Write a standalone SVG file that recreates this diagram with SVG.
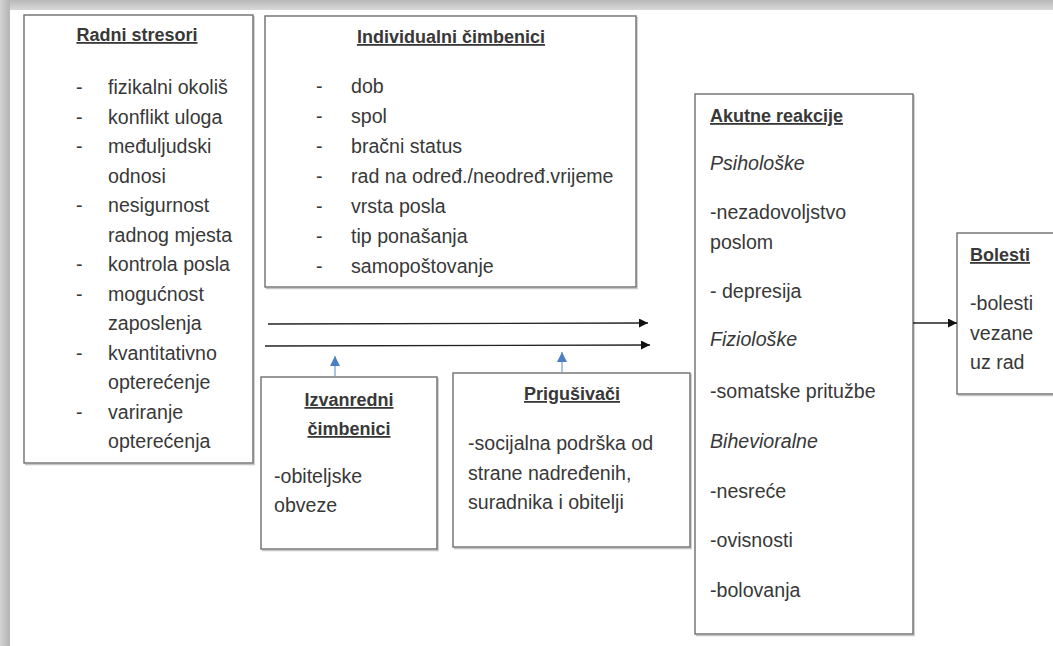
<svg xmlns="http://www.w3.org/2000/svg" width="1053" height="646" viewBox="0 0 1053 646">
<defs>
<linearGradient id="gTop" x1="0" y1="0" x2="0" y2="1"><stop offset="0" stop-color="#b8b8b8"/><stop offset="1" stop-color="#d8d8d8"/></linearGradient>
<linearGradient id="gLeft" x1="0" y1="0" x2="1" y2="0"><stop offset="0" stop-color="#d4d4d4"/><stop offset="1" stop-color="#b4b4b4"/></linearGradient>
<marker id="ah" viewBox="0 0 10 10" refX="10" refY="5" markerWidth="10" markerHeight="9" markerUnits="userSpaceOnUse" orient="auto"><path d="M0,0 L10,5 L0,10 z" fill="#111"/></marker>
<marker id="ahb" viewBox="0 0 10 10" refX="10" refY="5" markerWidth="10" markerHeight="10" markerUnits="userSpaceOnUse" orient="auto"><path d="M0,0 L10,5 L0,10 z" fill="#4a7fc4"/></marker>
</defs>
<style>
.box{fill:#fff;stroke:#6e6e6e;stroke-width:1.4}
.sh{fill:none;stroke:#c4c4c4;stroke-width:1.5}
text{font-family:"Liberation Sans",Arial,sans-serif;font-size:19.6px;fill:#383838}
.h{font-weight:bold;font-size:18px;text-decoration:underline}
.i{font-style:italic}
.c{text-anchor:middle}
.ln{stroke:#222;stroke-width:1.3;fill:none;marker-end:url(#ah)}
.bl{stroke:#8fb0dc;stroke-width:1.5;fill:none;marker-end:url(#ahb)}
</style>
<rect x="0" y="0" width="1053" height="646" fill="#fff"/>
<rect x="0" y="0" width="1053" height="10" fill="url(#gTop)"/>
<rect x="0" y="0" width="10" height="646" fill="url(#gLeft)"/>

<g id="radni-stresori">
<path class="sh" d="M254,16 V464.5 H25"/>
<rect class="box" x="24" y="15" width="229" height="448"/>
<text class="h c" x="137" y="41">Radni stresori</text>
<text x="76" y="94">-</text><text x="108" y="94">fizikalni okoliš</text>
<text x="76" y="123.5">-</text><text x="108" y="123.5">konflikt uloga</text>
<text x="76" y="153">-</text><text x="108" y="153">međuljudski</text>
<text x="108" y="182.5">odnosi</text>
<text x="76" y="212">-</text><text x="108" y="212">nesigurnost</text>
<text x="108" y="241.5">radnog mjesta</text>
<text x="76" y="271">-</text><text x="108" y="271">kontrola posla</text>
<text x="76" y="300.5">-</text><text x="108" y="300.5">mogućnost</text>
<text x="108" y="330">zaposlenja</text>
<text x="76" y="359.5">-</text><text x="108" y="359.5">kvantitativno</text>
<text x="108" y="389">opterećenje</text>
<text x="76" y="418.5">-</text><text x="108" y="418.5">variranje</text>
<text x="108" y="448">opterećenja</text>
</g>

<g id="individualni-cimbenici">
<path class="sh" d="M637,17 V288.5 H266"/>
<rect class="box" x="265" y="16" width="371" height="271"/>
<text class="h c" x="451" y="43">Individualni čimbenici</text>
<text x="316" y="93">-</text><text x="351" y="93">dob</text>
<text x="316" y="123">-</text><text x="351" y="123">spol</text>
<text x="316" y="153">-</text><text x="351" y="153">bračni status</text>
<text x="316" y="183">-</text><text x="351" y="183">rad na određ./neodređ.vrijeme</text>
<text x="316" y="213">-</text><text x="351" y="213">vrsta posla</text>
<text x="316" y="243">-</text><text x="351" y="243">tip ponašanja</text>
<text x="316" y="273">-</text><text x="351" y="273">samopoštovanje</text>
</g>

<g id="izvanredni-cimbenici">
<path class="sh" d="M438,378 V550.5 H262"/>
<rect class="box" x="261" y="377" width="176" height="172"/>
<text class="h c" x="349" y="406">Izvanredni</text>
<text class="h c" x="349" y="435">čimbenici</text>
<text x="274" y="483">-obiteljske</text>
<text x="274" y="512">obveze</text>
</g>

<g id="prigusivaci">
<path class="sh" d="M691,374 V548.5 H454"/>
<rect class="box" x="453" y="373" width="237" height="174"/>
<text class="h c" x="572" y="400">Prigušivači</text>
<text x="468" y="450">-socijalna podrška od</text>
<text x="468" y="480">strane nadređenih,</text>
<text x="468" y="509">suradnika i obitelji</text>
</g>

<g id="akutne-reakcije">
<path class="sh" d="M914,95 V635.5 H696"/>
<rect class="box" x="695" y="94" width="218" height="540"/>
<text class="h" x="710" y="122">Akutne reakcije</text>
<text class="i" x="710" y="170">Psihološke</text>
<text x="710" y="219">-nezadovoljstvo</text>
<text x="710" y="249">poslom</text>
<text x="710" y="298">- depresija</text>
<text class="i" x="710" y="346">Fiziološke</text>
<text x="710" y="398">-somatske pritužbe</text>
<text class="i" x="710" y="448">Bihevioralne</text>
<text x="710" y="498">-nesreće</text>
<text x="710" y="547">-ovisnosti</text>
<text x="710" y="597">-bolovanja</text>
</g>

<g id="bolesti">
<path class="sh" d="M1060,395.5 H958"/>
<rect class="box" x="957" y="233" width="110" height="161"/>
<text class="h" x="970" y="261">Bolesti</text>
<text x="970" y="310">-bolesti</text>
<text x="970" y="340">vezane</text>
<text x="970" y="369">uz rad</text>
</g>

<g id="connectors">
<line class="ln" x1="268" y1="324" x2="648" y2="323"/>
<line class="ln" x1="265" y1="346" x2="650" y2="345"/>
<line class="bl" x1="335" y1="376" x2="335" y2="356"/>
<line class="bl" x1="562" y1="372" x2="562" y2="352"/>
<line class="ln" x1="913" y1="323" x2="957" y2="323"/>
</g>
</svg>
